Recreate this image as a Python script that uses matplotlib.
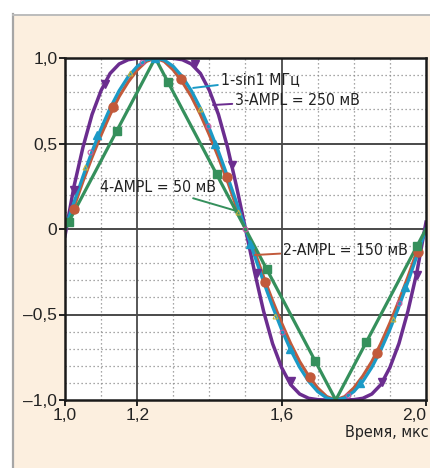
import matplotlib
matplotlib.use("Agg")
from matplotlib import pyplot as plt
from matplotlib.patches import Rectangle
from matplotlib.lines import Line2D

plt.rcParams['font.family'] = ['Liberation Sans', 'DejaVu Sans']

# time, mks (step 0.025)
t = [1.000, 1.025, 1.050, 1.075, 1.100, 1.125, 1.150, 1.175, 1.200, 1.225,
     1.250, 1.275, 1.300, 1.325, 1.350, 1.375, 1.400, 1.425, 1.450, 1.475,
     1.500, 1.525, 1.550, 1.575, 1.600, 1.625, 1.650, 1.675, 1.700, 1.725,
     1.750, 1.775, 1.800, 1.825, 1.850, 1.875, 1.900, 1.925, 1.950, 1.975,
     2.000]

# 1 - sin 1 MHz
sine = [0.000, 0.156, 0.309, 0.454, 0.588, 0.707, 0.809, 0.891, 0.951, 0.988,
        1.000, 0.988, 0.951, 0.891, 0.809, 0.707, 0.588, 0.454, 0.309, 0.156,
        0.000, -0.156, -0.309, -0.454, -0.588, -0.707, -0.809, -0.891, -0.951, -0.988,
        -1.000, -0.988, -0.951, -0.891, -0.809, -0.707, -0.588, -0.454, -0.309, -0.156,
        0.000]

# 2 - AMPL = 150 mV
ampl150 = [0.000, 0.130, 0.280, 0.420, 0.550, 0.670, 0.775, 0.860, 0.930, 0.980,
           1.000, 0.980, 0.930, 0.860, 0.775, 0.670, 0.550, 0.420, 0.280, 0.130,
           0.000, -0.130, -0.280, -0.420, -0.550, -0.670, -0.775, -0.860, -0.930, -0.980,
           -1.000, -0.980, -0.930, -0.860, -0.775, -0.670, -0.550, -0.420, -0.280, -0.130,
           0.000]

# 3 - AMPL = 250 mV
ampl250 = [-0.040, 0.250, 0.480, 0.670, 0.810, 0.910, 0.965, 0.990, 0.998, 1.000,
           1.000, 1.000, 0.998, 0.990, 0.965, 0.910, 0.810, 0.670, 0.480, 0.250,
           0.000, -0.250, -0.480, -0.670, -0.810, -0.910, -0.965, -0.990, -0.998, -1.000,
           -1.000, -1.000, -0.998, -0.990, -0.965, -0.910, -0.810, -0.670, -0.480, -0.250,
           0.040]

# 4 - AMPL = 50 mV (triangle)
t50 = [1.000, 1.250, 1.750, 2.000]
ampl50 = [0.000, 1.000, -1.000, 0.000]

# marker points
m_sine_t = [1.088, 1.250, 1.416, 1.512, 1.623, 1.817, 1.942]
m_sine_v = [0.55, 1.00, 0.50, -0.09, -0.70, -0.90, -0.34]
m150_t = [1.025, 1.133, 1.321, 1.449, 1.554, 1.679, 1.864, 1.978]
m150_v = [0.117, 0.713, 0.877, 0.304, -0.31, -0.865, -0.725, -0.135]
m250_t = [1.025, 1.110, 1.360, 1.463, 1.532, 1.626, 1.878, 1.975]
m250_v = [0.23, 0.85, 0.965, 0.374, -0.26, -0.89, -0.895, -0.27]
m50_t = [1.010, 1.144, 1.285, 1.420, 1.559, 1.693, 1.835, 1.975]
m50_v = [0.04, 0.576, 0.86, 0.32, -0.236, -0.772, -0.66, -0.10]
tri_t = [1.055, 1.180, 1.374, 1.480, 1.582, 1.908]
tri_v = [0.36, 0.91, 0.70, 0.10, -0.51, -0.526]
circ_t = [1.070, 1.213, 1.397, 1.500, 1.600, 1.785, 1.925]
circ_v = [0.45, 0.976, 0.60, 0.00, -0.60, -0.97, -0.43]

x_ticks = [1.0, 1.2, 1.6, 2.0]
x_labels = ['1,0', '1,2', '1,6', '2,0']
y_ticks = [-1.0, -0.5, 0.0, 0.5, 1.0]
y_labels = ['\u20131,0', '\u20130,5', '0', '0,5', '1,0']

c_sine = '#1b9ac6'
c_150 = '#c25a3b'
c_250 = '#6b2d8f'
c_50 = '#35905c'
cream = '#fcefdf'

fig = plt.figure(figsize=(4.31, 4.68), dpi=100)
fig.patch.set_facecolor('white')
# cream panel with grey border on top and left
fig.add_artist(Rectangle((13 / 431, 0), 1, (468 - 15) / 468, transform=fig.transFigure,
                         facecolor=cream, edgecolor='none', zorder=-5))
fig.add_artist(Line2D([13 / 431, 13 / 431], [0, (468 - 14) / 468], transform=fig.transFigure,
                      color='#a6a6a6', lw=1.6, zorder=-4))
fig.add_artist(Line2D([13 / 431, 1], [(468 - 14.5) / 468, (468 - 14.5) / 468],
                      transform=fig.transFigure, color='#bcbcbc', lw=1.4, zorder=-4))

ax = fig.add_axes([65 / 431, 1 - 400 / 468, 361 / 431, 342 / 468])
ax.set_facecolor('white')
ax.set_xlim(1.0, 2.0)
ax.set_ylim(-1.0, 1.0)

# grid: dotted minor every 0.1, solid major
for xv in [1.1, 1.3, 1.4, 1.5, 1.7, 1.8, 1.9]:
    ax.axvline(xv, color='#8a8a8a', lw=0.9, ls=(0, (1, 2.2)), zorder=1)
for yv in [-0.9, -0.8, -0.7, -0.6, -0.4, -0.3, -0.2, -0.1,
           0.1, 0.2, 0.3, 0.4, 0.6, 0.7, 0.8, 0.9]:
    ax.axhline(yv, color='#8a8a8a', lw=0.9, ls=(0, (1, 2.2)), zorder=1)
for xv in [1.2, 1.6]:
    ax.axvline(xv, color='#3a3a3a', lw=1.2, zorder=1.5)
for yv in [-0.5, 0.0, 0.5]:
    ax.axhline(yv, color='#4a4a4a', lw=1.4, zorder=1.5)

lw = 2.3
ax.plot(t, ampl150, color=c_150, lw=lw, zorder=3)
ax.plot(t, sine, color=c_sine, lw=lw, zorder=4)
ax.plot(t, ampl250, color=c_250, lw=lw + 0.2, zorder=3.5)
ax.plot(t50, ampl50, color=c_50, lw=lw, zorder=5)

ax.plot(m150_t, m150_v, 'o', color=c_150, ms=6.5, zorder=6)
ax.plot(m_sine_t, m_sine_v, '^', color=c_sine, ms=5.5, zorder=6)
ax.plot(m250_t, m250_v, 'v', color=c_250, ms=5.5, zorder=6)
ax.plot(m50_t, m50_v, 's', color=c_50, ms=6, zorder=6)
ax.plot(tri_t, tri_v, '^', mfc='none', mec='#c8b43c', mew=0.8, ms=3.5, zorder=7)
ax.plot(circ_t, circ_v, 'o', mfc='none', mec='#c45aa0', mew=0.8, ms=3.5, zorder=7)

ax.set_xticks(x_ticks)
ax.set_xticklabels(x_labels)
ax.set_yticks(y_ticks)
ax.set_yticklabels(y_labels)
ax.tick_params(direction='out', length=4, width=1.4, labelsize=12.5, colors='#222222', pad=1.5)
ax.get_xticklabels()[-1].set_horizontalalignment('right')
for sp in ax.spines.values():
    sp.set_linewidth(1.8)
    sp.set_color('#1a1a1a')
    sp.set_zorder(8)

# condensed face for the curve labels
txt = dict(fontsize=11.3, color='#222222', va='center', ha='left', zorder=9,
           family=['DejaVu Sans'], fontstretch='condensed')
ax.annotate('1-sin1 МГц', xy=(1.355, 0.825), xytext=(1.431, 0.871),
            arrowprops=dict(arrowstyle='-', color=c_sine, lw=1.4, shrinkA=0, shrinkB=0), **txt)
ax.annotate('3-AMPL = 250 мВ', xy=(1.410, 0.725), xytext=(1.471, 0.754),
            arrowprops=dict(arrowstyle='-', color=c_250, lw=1.4, shrinkA=0, shrinkB=0), **txt)
ax.annotate('4-AMPL = 50 мВ', xy=(1.476, 0.105), xytext=(1.097, 0.240),
            arrowprops=dict(arrowstyle='-', color=c_50, lw=1.4, shrinkA=0, shrinkB=0), **txt)
ax.annotate('2-AMPL = 150 мВ', xy=(1.526, -0.152), xytext=(1.604, -0.123),
            arrowprops=dict(arrowstyle='-', color=c_150, lw=1.4, shrinkA=0, shrinkB=0), **txt)

fig.text(429 / 431, 1 - 432 / 468, 'Время, мкс', ha='right', va='center',
         fontsize=11.5, color='#222222', family=['DejaVu Sans'], fontstretch='condensed')

fig.savefig('out.png', dpi=100, facecolor=fig.get_facecolor())
